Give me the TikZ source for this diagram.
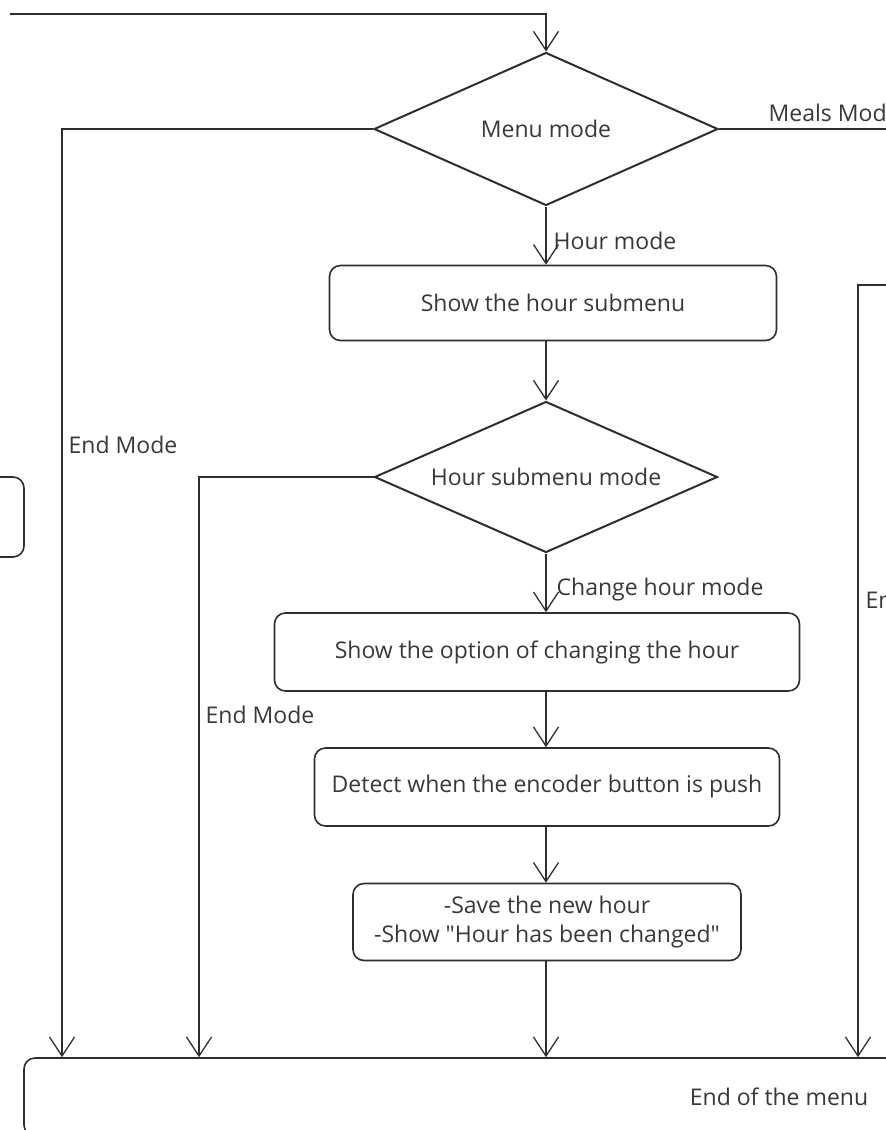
\documentclass[tikz,border=0pt]{standalone}
\usepackage{fontspec}
\setmainfont{Open Sans}
\usetikzlibrary{arrows.meta, shapes.geometric, positioning}
\definecolor{ink}{HTML}{2E2E2E}
\definecolor{txt}{HTML}{383838}
\tikzset{>={Straight Barb[length=19pt,width=25pt]}}
\tikzset{
  decision/.style={diamond, draw=ink, line width=2pt, minimum width=344pt, minimum height=153pt, inner sep=0pt},
  action/.style={rectangle, draw=ink, rounded corners=11pt, line width=1.6pt, inner sep=0pt, align=center},
  tag/.style={anchor=west, inner sep=0pt},
}

\begin{document}
\begin{tikzpicture}[>={Straight Barb[length=19pt,width=25pt]}, x=1pt, y=-1pt, line width=1.3pt, text=txt, font=\fontsize{23}{29}\selectfont]
    \clip (0,0) rectangle (886,1130);
    \node[decision, label=center:{Menu mode}] (menu) at (546,129) {};
    \node[action, minimum width=447pt, minimum height=75pt] (hourbox) at (553,303) {Show the hour submenu};
    \node[decision, minimum width=343pt, minimum height=151pt, label=center:{Hour submenu mode}] (submenu) at (546,477) {};
    \node[action, minimum width=525pt, minimum height=78pt] (optbox) at (537,652) {Show the option of changing the hour};
    \node[action, minimum width=465pt, minimum height=78pt] (pushbox) at (547,787) {Detect when the encoder button is push};
    \node[action, minimum width=388pt, minimum height=77pt] (savebox) at (547,922) {-Save the new hour\\-Show \textquotedbl Hour has been changed\textquotedbl};
    \node[action, minimum width=1510pt, minimum height=78pt] (endmenu) at (779,1097) {End of the menu};
    \node[action, minimum width=400pt, minimum height=80pt] (sidebox) at (-176,517) {};
    \coordinate (loopin) at (10,14);
    \coordinate (mealsout) at (900,129);
    \coordinate (mealsin) at (900,285);
    \coordinate (colA) at (62,0);
    \coordinate (colB) at (199,0);
    \coordinate (colC) at (858,0);
    \draw [->, draw=ink](loopin) -| (menu.north);
    \draw [draw=ink](menu.east) -- (mealsout);
    \draw [->, draw=ink](menu.south) -- (menu.south |- hourbox.north);
    \draw [->, draw=ink](menu.south |- hourbox.south) -- (submenu.north);
    \draw [->, draw=ink](submenu.south) -- (submenu.south |- optbox.north);
    \draw [->, draw=ink](submenu.south |- optbox.south) -- (submenu.south |- pushbox.north);
    \draw [->, draw=ink](submenu.south |- pushbox.south) -- (submenu.south |- savebox.north);
    \draw [->, draw=ink](submenu.south |- savebox.south) -- (submenu.south |- endmenu.north);
    \draw [->, draw=ink](menu.west) -| (colA |- endmenu.north);
    \draw [->, draw=ink](submenu.west) -| (colB |- endmenu.north);
    \draw [->, draw=ink](mealsin) -| (colC |- endmenu.north);
    \node[tag] (lmeals) at (768,113) {Meals Mode};
    \node[tag] (lhour) at (553,241) {Hour mode};
    \node[tag] (lendA) at (68,445) {End Mode};
    \node[tag] (lchange) at (556,590) {Change hour mode};
    \node[tag] (lendB) at (205,715) {End Mode};
    \node[tag] (lendC) at (865,600) {End Mode};
\end{tikzpicture}
\end{document}
